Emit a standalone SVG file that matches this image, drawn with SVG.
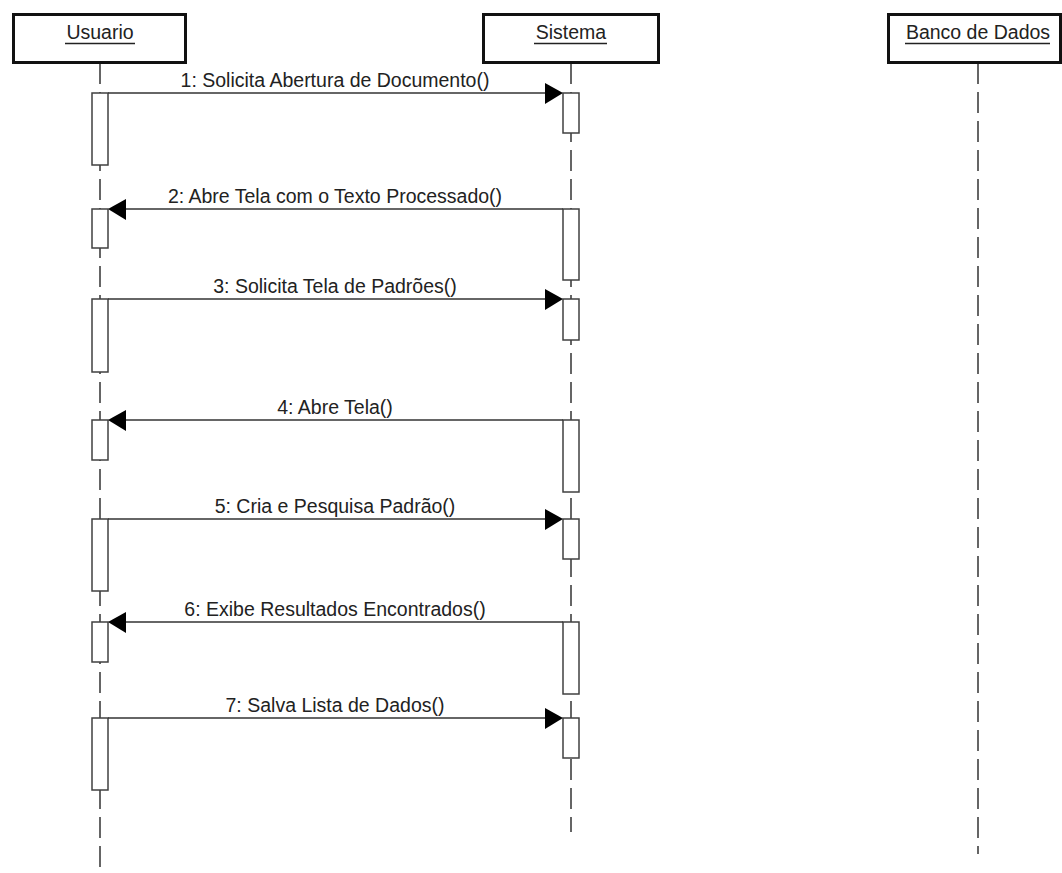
<svg xmlns="http://www.w3.org/2000/svg" width="1062" height="873" viewBox="0 0 1062 873">
  <style>
    .obj { fill: #ffffff; stroke: #111111; stroke-width: 3; }
    .name { font-family: "Liberation Sans", Arial, sans-serif; font-size: 19.5px; fill: #222222; text-anchor: middle; }
    .uline { stroke: #222222; stroke-width: 1.5; }
    .life { stroke: #333333; stroke-width: 1.5; stroke-dasharray: 21 8; fill: none; }
    .act { fill: #ffffff; stroke: #404040; stroke-width: 1.5; }
    .msg { stroke: #333333; stroke-width: 1.5; fill: none; }
    .head { fill: #000000; stroke: none; }
    .lbl { font-family: "Liberation Sans", Arial, sans-serif; font-size: 19.5px; fill: #222222; text-anchor: middle; }
  </style>

  <rect width="1062" height="873" fill="#ffffff"/>

  <!-- lifelines -->
  <g id="lifelines">
    <line class="life" x1="100" y1="63" x2="100" y2="873"/>
    <line class="life" x1="571" y1="63" x2="571" y2="832"/>
    <line class="life" x1="978" y1="63" x2="978" y2="854"/>
  </g>

  <!-- participant: Usuario -->
  <g id="usuario">
    <rect class="obj" x="13.5" y="14.5" width="172" height="48"/>
    <text class="name" x="100" y="39">Usuario</text>
    <line class="uline" x1="65" y1="43.5" x2="135" y2="43.5"/>
    <rect class="act" x="92" y="93" width="16" height="72"/>
    <rect class="act" x="92" y="209" width="16" height="39"/>
    <rect class="act" x="92" y="299" width="16" height="73"/>
    <rect class="act" x="92" y="420" width="16" height="40"/>
    <rect class="act" x="92" y="519" width="16" height="72"/>
    <rect class="act" x="92" y="622" width="16" height="40"/>
    <rect class="act" x="92" y="718" width="16" height="72"/>
  </g>

  <!-- participant: Sistema -->
  <g id="sistema">
    <rect class="obj" x="483.5" y="14.5" width="175" height="48"/>
    <text class="name" x="571" y="39">Sistema</text>
    <line class="uline" x1="534" y1="43.5" x2="607" y2="43.5"/>
    <rect class="act" x="563" y="93" width="16" height="40"/>
    <rect class="act" x="563" y="209" width="16" height="71"/>
    <rect class="act" x="563" y="299" width="16" height="41"/>
    <rect class="act" x="563" y="420" width="16" height="72"/>
    <rect class="act" x="563" y="519" width="16" height="40"/>
    <rect class="act" x="563" y="622" width="16" height="72"/>
    <rect class="act" x="563" y="718" width="16" height="40"/>
  </g>

  <!-- participant: Banco de Dados -->
  <g id="banco">
    <rect class="obj" x="888.5" y="14.5" width="172" height="48"/>
    <text class="name" x="978" y="39">Banco de Dados</text>
    <line class="uline" x1="905" y1="43.5" x2="1050" y2="43.5"/>
  </g>

  <!-- messages -->
  <g id="connectors">
    <line class="msg" x1="108" y1="93" x2="548" y2="93"/>
    <polygon class="head" points="563,93 545,83 545,104"/>
    <text class="lbl" x="335" y="87">1: Solicita Abertura de Documento()</text>

    <line class="msg" x1="123" y1="209" x2="563" y2="209"/>
    <polygon class="head" points="108,209 126,199 126,220"/>
    <text class="lbl" x="335" y="203">2: Abre Tela com o Texto Processado()</text>

    <line class="msg" x1="108" y1="299" x2="548" y2="299"/>
    <polygon class="head" points="563,299 545,289 545,310"/>
    <text class="lbl" x="335" y="293">3: Solicita Tela de Padrões()</text>

    <line class="msg" x1="123" y1="420" x2="563" y2="420"/>
    <polygon class="head" points="108,420 126,410 126,431"/>
    <text class="lbl" x="335" y="414">4: Abre Tela()</text>

    <line class="msg" x1="108" y1="519" x2="548" y2="519"/>
    <polygon class="head" points="563,519 545,509 545,530"/>
    <text class="lbl" x="335" y="513">5: Cria e Pesquisa Padrão()</text>

    <line class="msg" x1="123" y1="622" x2="563" y2="622"/>
    <polygon class="head" points="108,622 126,612 126,633"/>
    <text class="lbl" x="335" y="616">6: Exibe Resultados Encontrados()</text>

    <line class="msg" x1="108" y1="718" x2="548" y2="718"/>
    <polygon class="head" points="563,718 545,708 545,729"/>
    <text class="lbl" x="335" y="712">7: Salva Lista de Dados()</text>
  </g>
</svg>
